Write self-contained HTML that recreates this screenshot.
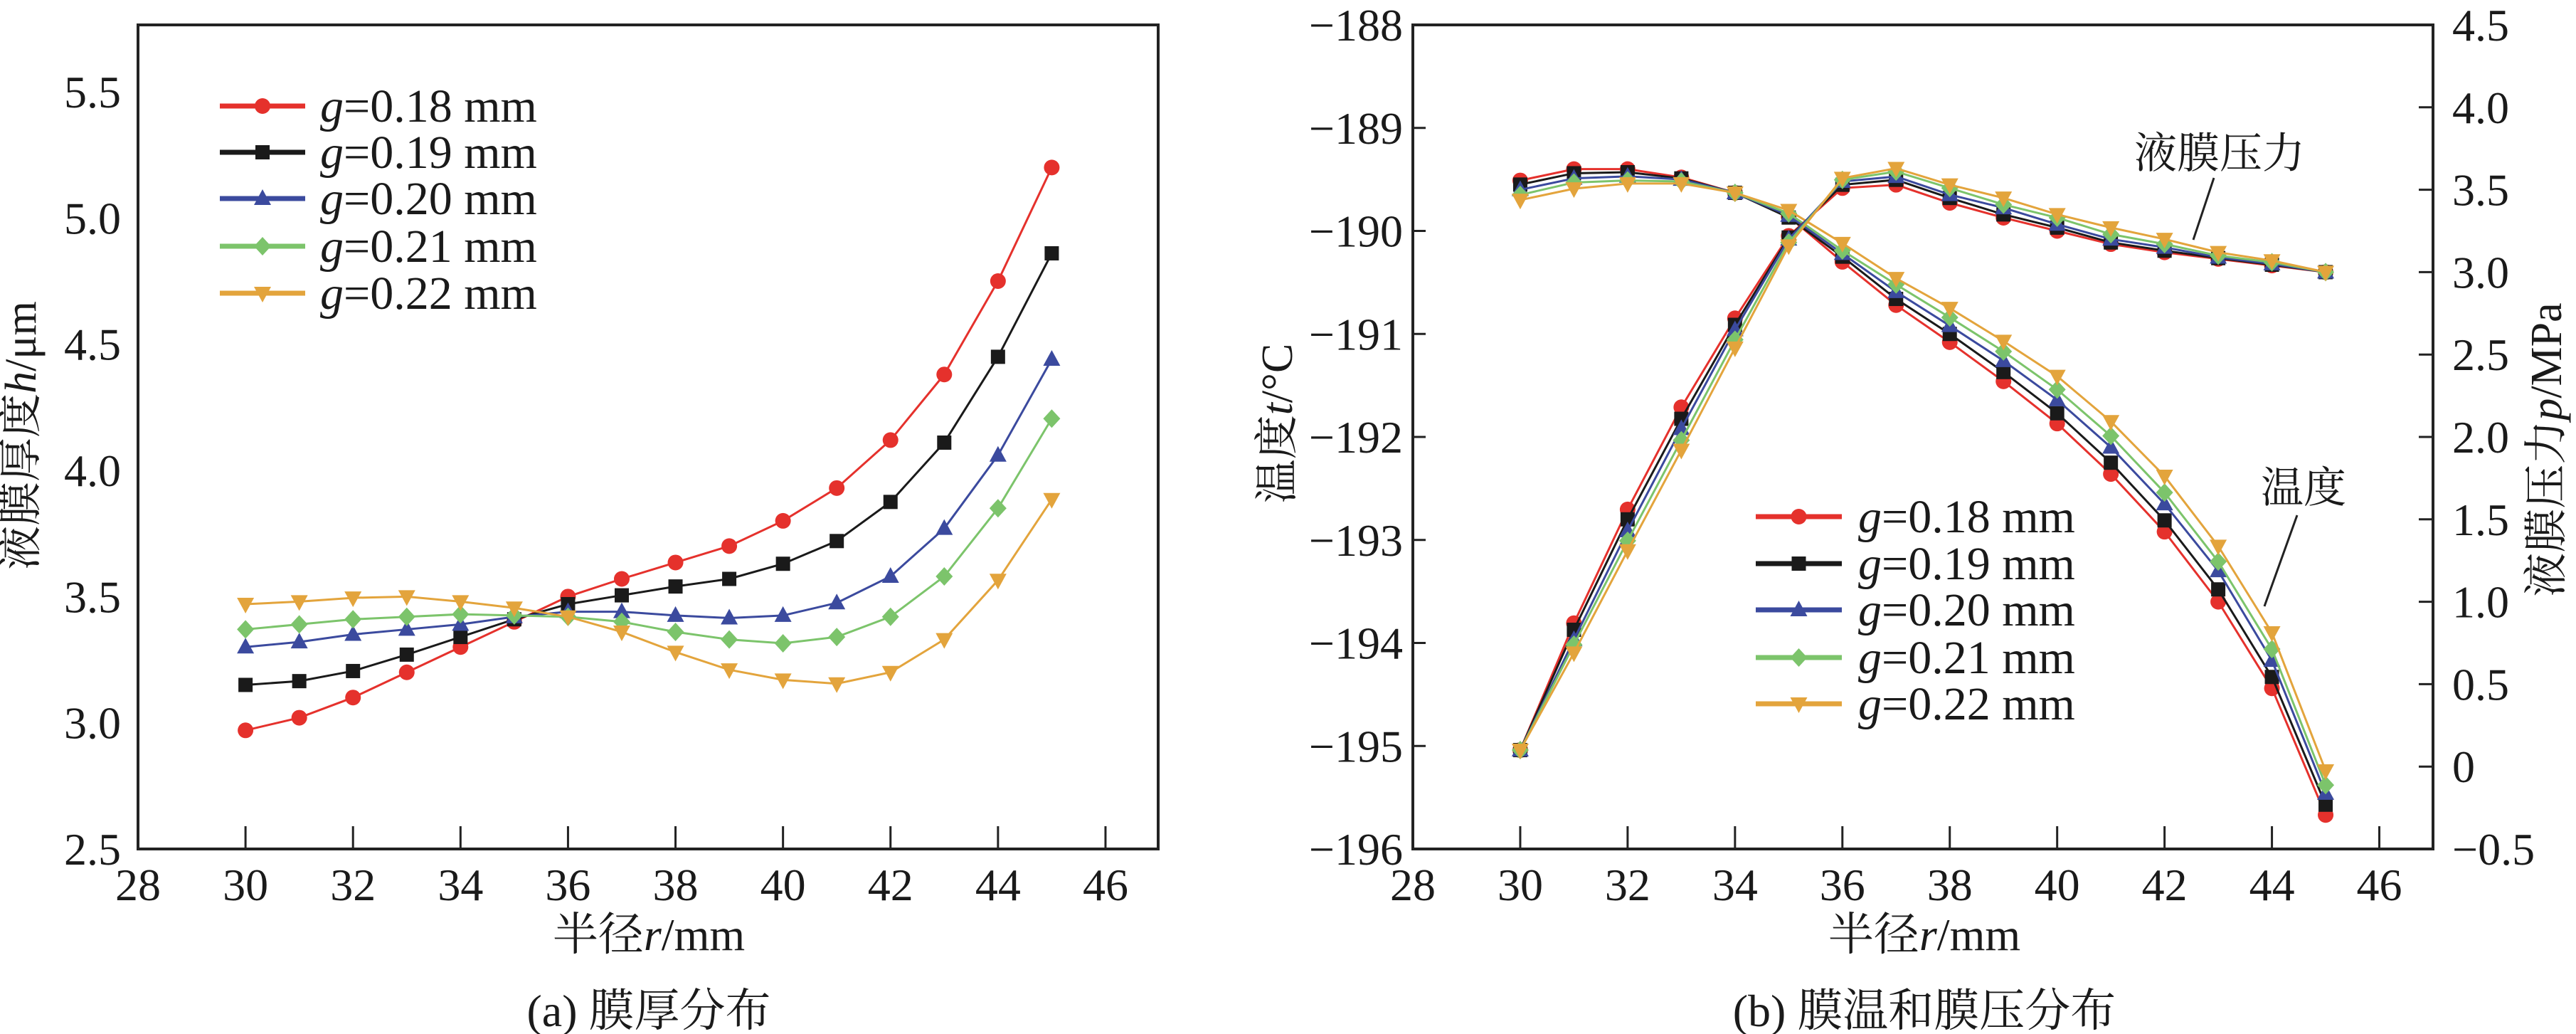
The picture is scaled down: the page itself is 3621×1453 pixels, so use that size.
<!DOCTYPE html>
<html><head><meta charset="utf-8">
<style>
html,body{margin:0;padding:0;background:#fff;}
svg{display:block;font-family:"Liberation Serif","Noto Serif CJK SC",serif;}
</style></head>
<body>
<svg id="fig" width="3621" height="1453" viewBox="0 0 3621 1453" xmlns="http://www.w3.org/2000/svg"></svg>
<script>
const radii = [30,31,32,33,34,35,36,37,38,39,40,41,42,43,44,45];
const seriesNames = ["g=0.18 mm","g=0.19 mm","g=0.20 mm","g=0.21 mm","g=0.22 mm"];
const hValues018 = [2.97,3.02,3.10,3.20,3.30,3.40,3.50,3.57,3.635,3.70,3.80,3.93,4.12,4.38,4.75,5.20];
const hValues019 = [3.15,3.165,3.205,3.27,3.34,3.41,3.47,3.505,3.54,3.57,3.63,3.72,3.875,4.11,4.45,4.86];
const hValues020 = [3.30,3.32,3.35,3.37,3.39,3.42,3.44,3.44,3.425,3.415,3.425,3.475,3.58,3.77,4.06,4.44];
const hValues021 = [3.37,3.39,3.41,3.42,3.43,3.425,3.42,3.40,3.36,3.33,3.315,3.34,3.42,3.58,3.85,4.205];
const hValues022 = [3.47,3.48,3.495,3.50,3.48,3.455,3.42,3.36,3.28,3.21,3.17,3.155,3.20,3.33,3.565,3.885];
const tValues018 = [-189.51,-189.40,-189.40,-189.48,-189.63,-189.86,-190.30,-190.72,-191.08,-191.46,-191.87,-192.36,-192.92,-193.60,-194.44,-195.67];
const tValues019 = [-189.55,-189.44,-189.43,-189.49,-189.63,-189.87,-190.25,-190.66,-191.00,-191.37,-191.77,-192.25,-192.81,-193.48,-194.33,-195.57];
const tValues020 = [-189.60,-189.49,-189.47,-189.50,-189.63,-189.85,-190.22,-190.59,-190.92,-191.26,-191.64,-192.10,-192.65,-193.30,-194.17,-195.46];
const tValues021 = [-189.65,-189.53,-189.51,-189.52,-189.63,-189.83,-190.19,-190.52,-190.84,-191.17,-191.54,-191.99,-192.54,-193.21,-194.06,-195.38];
const tValues022 = [-189.70,-189.59,-189.54,-189.54,-189.63,-189.80,-190.12,-190.46,-190.75,-191.07,-191.41,-191.85,-192.38,-193.06,-193.90,-195.24];
const pValues018 = [0.10,0.87,1.56,2.18,2.72,3.22,3.51,3.53,3.42,3.33,3.25,3.17,3.12,3.08,3.04,3.00];
const pValues019 = [0.10,0.83,1.50,2.11,2.68,3.21,3.53,3.56,3.45,3.35,3.27,3.18,3.13,3.085,3.045,3.00];
const pValues020 = [0.10,0.77,1.43,2.05,2.65,3.20,3.55,3.58,3.47,3.39,3.29,3.20,3.15,3.09,3.05,3.00];
const pValues021 = [0.10,0.74,1.37,1.98,2.59,3.18,3.56,3.61,3.51,3.41,3.33,3.23,3.17,3.10,3.06,3.00];
const pValues022 = [0.10,0.69,1.31,1.92,2.54,3.16,3.57,3.63,3.53,3.45,3.35,3.27,3.20,3.12,3.07,3.00];
const xTicks = [28,30,32,34,36,38,40,42,44,46];
const hTicks = [2.5,3.0,3.5,4.0,4.5,5.0,5.5];
const tTicks = [-188,-189,-190,-191,-192,-193,-194,-195,-196];
const pTicks = [-0.5,0,0.5,1.0,1.5,2.0,2.5,3.0,3.5,4.0,4.5];
const pTickLabels = ["\u22120.5","0","0.5","1.0","1.5","2.0","2.5","3.0","3.5","4.0","4.5"];

const colors = ["#e5312c","#1a1a1a","#3b4a9e","#7cc46b","#e3a43c"];
const markers = ["circle","square","tri","diamond","trid"];
const NS = "http://www.w3.org/2000/svg";
const svg = document.getElementById("fig");
function mk(tag, attrs, parent){ const e=document.createElementNS(NS,tag); for(const k in attrs) e.setAttribute(k,attrs[k]); (parent||svg).appendChild(e); return e; }
function marker(g, type, x, y, c){
  let e;
  if(type==="circle") e=mk("circle",{cx:x,cy:y,r:11,fill:c},g);
  else if(type==="square") e=mk("rect",{x:x-10,y:y-10,width:20,height:20,fill:c},g);
  else if(type==="tri") e=mk("polygon",{points:`${x},${y-13} ${x-12},${y+9} ${x+12},${y+9}`,fill:c},g);
  else if(type==="trid") e=mk("polygon",{points:`${x},${y+13} ${x-12},${y-9} ${x+12},${y-9}`,fill:c},g);
  else e=mk("polygon",{points:`${x},${y-13} ${x+12},${y} ${x},${y+13} ${x-12},${y}`,fill:c},g);
  return e;
}
const TOP=35, BOT=1193;
function axisX(x0,x1,v0,v1){ return v=>x0+(v-v0)/(v1-v0)*(x1-x0); }
function axisY(v0,v1){ return v=>BOT-(v-v0)/(v1-v0)*(BOT-TOP); }
function text(str,x,y,size,anchor,parent){ const t=mk("text",{x:x,y:y,"font-size":size,"text-anchor":anchor||"middle",fill:"#1a1a1a"},parent); t.textContent=str; return t; }
function drawSeries(g, xs, ys, X, Y, i){
  const pts = xs.map((v,k)=>X(v)+","+Y(ys[k])).join(" ");
  const l = mk("polyline",{points:pts,fill:"none",stroke:colors[i],"stroke-width":3},g);
  
  
  xs.forEach((v,k)=>{ const m=marker(g,markers[i],X(v),Y(ys[k]),colors[i]);
    
     });
}
function legend(g, x0, x1, tx, rows){
  rows.forEach((y,i)=>{
    mk("line",{x1:x0,y1:y,x2:x1,y2:y,stroke:colors[i],"stroke-width":7},g);
    marker(g,markers[i],(x0+x1)/2,y,colors[i]);
    const t=mk("text",{x:tx,y:y+22,"font-size":66,fill:"#1a1a1a"},g);
    
    
    const it=mk("tspan",{"font-style":"italic"},t); it.textContent="g";
    const r=mk("tspan",{},t); r.textContent=seriesNames[i].slice(1);
  });
}

/* ---------- chart (a) ---------- */
const ga = mk("g",{});  
const XA = axisX(194,1628,28,46.98), YA = axisY(2.5,5.765);
mk("rect",{x:194,y:TOP,width:1434,height:BOT-TOP,fill:"none",stroke:"#222","stroke-width":4},ga);
xTicks.forEach(v=>{ if(v>28) mk("line",{x1:XA(v),y1:BOT,x2:XA(v),y2:BOT-32,stroke:"#222","stroke-width":3},ga);
  const t=text(String(v),XA(v),1265,64,"middle",ga);   });
hTicks.forEach(v=>{ const t=text(v.toFixed(1),170,YA(v)+22,64,"end",ga);   });
const hAll=[hValues018,hValues019,hValues020,hValues021,hValues022];
hAll.forEach((s,i)=>drawSeries(ga,radii,s,XA,YA,i));
legend(ga,309,429,450,[149,214,279,346,412]);
const xta=mk("text",{x:912,y:1335,"font-size":64,"text-anchor":"middle",fill:"#1a1a1a"},ga);
 
xta.innerHTML='半径<tspan font-style="italic">r</tspan>/mm';
const yta=mk("text",{x:0,y:0,"font-size":62,"text-anchor":"middle",fill:"#1a1a1a",transform:"translate(50,612) rotate(-90)"},ga);
 
yta.innerHTML='液膜厚度<tspan font-style="italic">h</tspan>/μm';
const capa=text("(a) 膜厚分布",912,1442,64,"middle",ga);  

/* ---------- chart (b) ---------- */
const gb = mk("g",{});  
const XB = axisX(1986,3420,28,47.0), YT = axisY(-196,-188), YP = axisY(-0.5,4.5);
mk("rect",{x:1986,y:TOP,width:1434,height:BOT-TOP,fill:"none",stroke:"#222","stroke-width":4},gb);
xTicks.forEach(v=>{ if(v>28) mk("line",{x1:XB(v),y1:BOT,x2:XB(v),y2:BOT-32,stroke:"#222","stroke-width":3},gb);
  const t=text(String(v),XB(v),1265,64,"middle",gb);   });
tTicks.forEach(v=>{ mk("line",{x1:1986,y1:YT(v),x2:2004,y2:YT(v),stroke:"#222","stroke-width":3},gb);
  const t=text("\u2212"+Math.abs(v),1972,YT(v)+22,64,"end",gb);   });
pTicks.forEach((v,k)=>{ mk("line",{x1:3420,y1:YP(v),x2:3400,y2:YP(v),stroke:"#222","stroke-width":3},gb);
  const t=text(pTickLabels[k],3447,YP(v)+22,64,"start",gb);   });
const tAll=[tValues018,tValues019,tValues020,tValues021,tValues022];
const pAll=[pValues018,pValues019,pValues020,pValues021,pValues022];
tAll.forEach((s,i)=>drawSeries(gb,radii,s,XB,YT,i));
pAll.forEach((s,i)=>drawSeries(gb,radii,s,XB,YP,i));
legend(gb,2468,2589,2612,[726,792,857,924,989]);
const ann1=text("液膜压力",3120,236,60,"middle",gb);  
mk("line",{x1:3112,y1:250,x2:3083,y2:337,stroke:"#222","stroke-width":3},gb);
const ann2=text("温度",3238,706,60,"middle",gb);  
mk("line",{x1:3229,y1:724,x2:3183,y2:852,stroke:"#222","stroke-width":3},gb);
const xtb=mk("text",{x:2705,y:1335,"font-size":64,"text-anchor":"middle",fill:"#1a1a1a"},gb);
 
xtb.innerHTML='半径<tspan font-style="italic">r</tspan>/mm';
const ytb=mk("text",{x:0,y:0,"font-size":62,"text-anchor":"middle",fill:"#1a1a1a",transform:"translate(1816,595) rotate(-90)"},gb);
 
ytb.innerHTML='温度<tspan font-style="italic">t</tspan>/°C';
const ytc=mk("text",{x:0,y:0,"font-size":62,"text-anchor":"middle",fill:"#1a1a1a",transform:"translate(3600,632) rotate(-90)"},gb);
 
ytc.innerHTML='液膜压力<tspan font-style="italic">p</tspan>/MPa';
const capb=text("(b) 膜温和膜压分布",2705,1442,64,"middle",gb);  
</script>
</body></html>
